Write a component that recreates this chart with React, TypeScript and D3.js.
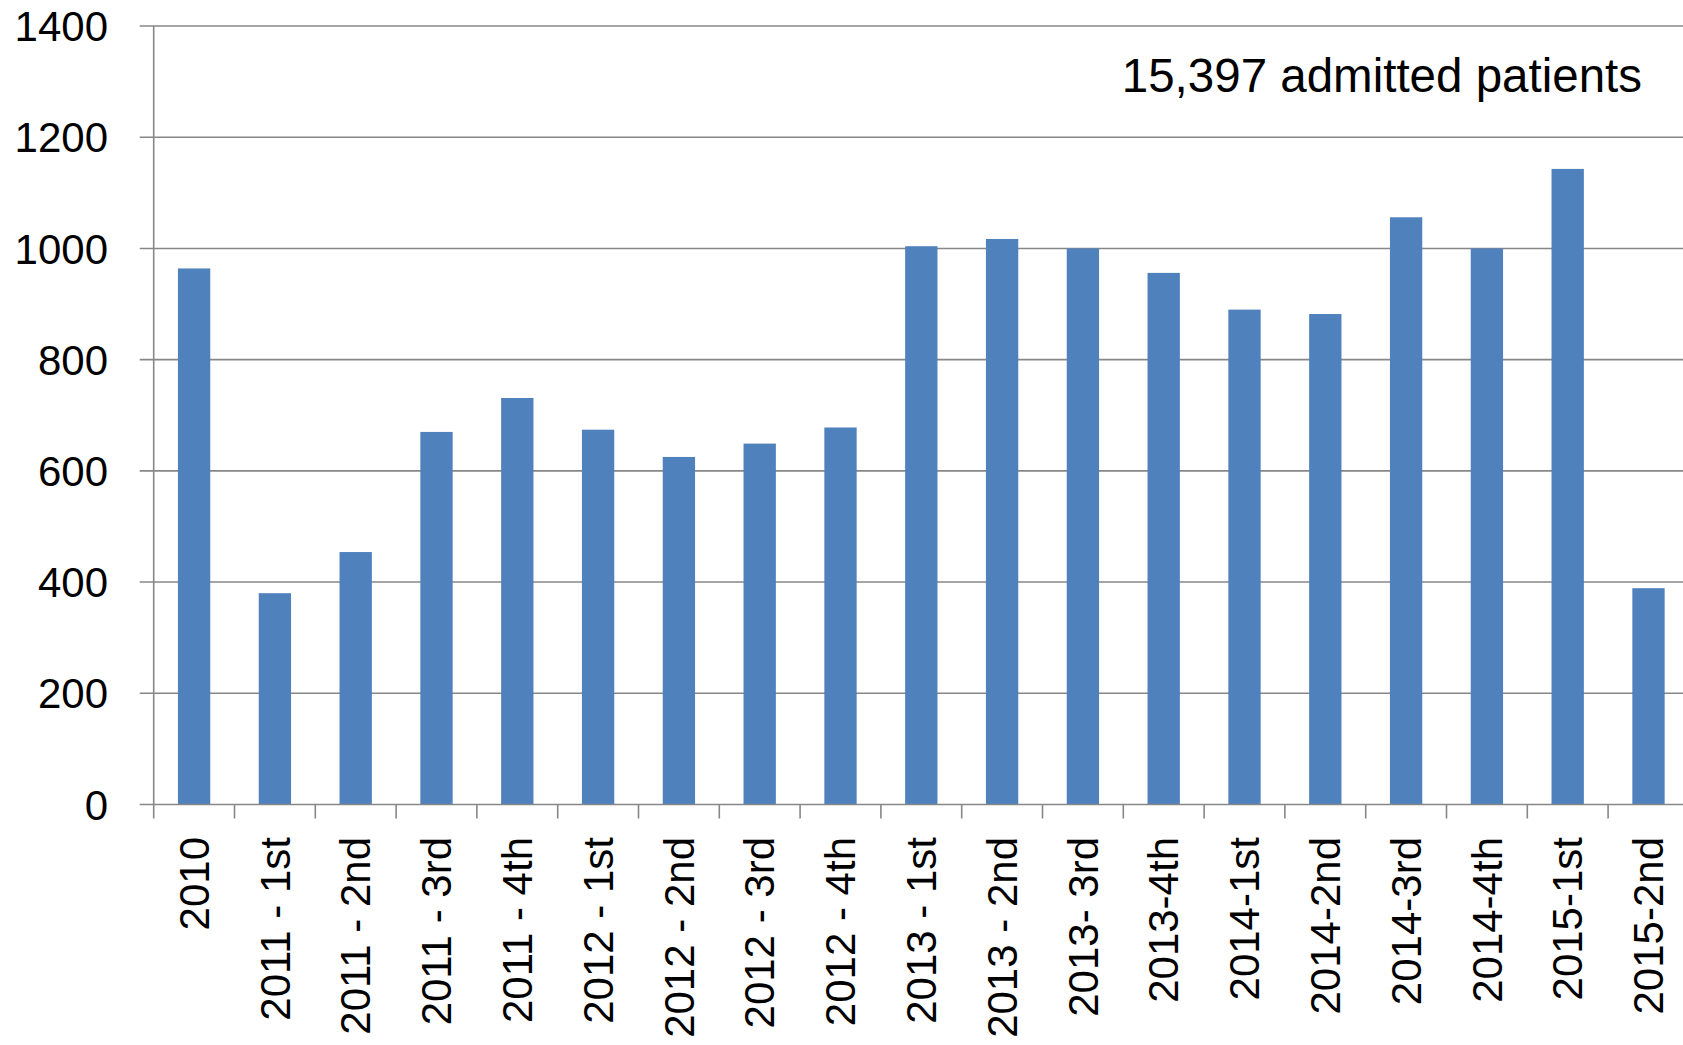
import React, { useEffect, useRef } from 'react';
import * as d3 from 'd3';

const categories = [
  "2010", "2011 - 1st", "2011 - 2nd", "2011 - 3rd", "2011 - 4th",
  "2012 - 1st", "2012 - 2nd", "2012 - 3rd", "2012 - 4th",
  "2013 - 1st", "2013 - 2nd", "2013- 3rd", "2013-4th",
  "2014-1st", "2014-2nd", "2014-3rd", "2014-4th",
  "2015-1st", "2015-2nd"
];
const admissions = [964, 380, 454, 670, 731, 674, 625, 649, 678, 1004, 1017, 1000, 956, 890, 882, 1056, 1000, 1143, 389];
const yTicks = [0, 200, 400, 600, 800, 1000, 1200, 1400];
const totalNote = "15,397 admitted patients";

const App = () => {
  const ref = useRef<SVGSVGElement>(null);

  useEffect(() => {
    document.body.style.margin = '0';
    const width = 1683;
    const height = 1045;
    const left = 153.7;
    const step = 80.8;
    const top = 26;
    const bottom = 804.5;
    const grey = '#878787';
    const font = '"Liberation Sans", Arial, sans-serif';

    const svg = d3.select(ref.current);
    svg.selectAll('*').remove();

    const x = d3.scaleBand()
      .domain(categories)
      .range([left, left + step * categories.length])
      .paddingInner(0.6)
      .paddingOuter(0.3);

    const y = d3.scaleLinear()
      .domain([0, 1400])
      .range([bottom, top]);

    // gridlines
    svg.append('g')
      .selectAll('line')
      .data(yTicks.filter(d => d > 0))
      .enter()
      .append('line')
      .attr('x1', left - 14)
      .attr('x2', width)
      .attr('y1', d => y(d))
      .attr('y2', d => y(d))
      .attr('stroke', grey)
      .attr('stroke-width', 1.6);

    // bars
    svg.append('g')
      .selectAll('rect')
      .data(admissions)
      .enter()
      .append('rect')
      .attr('x', (d, i) => x(categories[i]))
      .attr('y', d => y(d))
      .attr('width', x.bandwidth())
      .attr('height', d => bottom - y(d))
      .attr('fill', '#4F81BD');

    // y axis
    svg.append('line')
      .attr('x1', left).attr('x2', left)
      .attr('y1', top).attr('y2', bottom)
      .attr('stroke', grey).attr('stroke-width', 1.6);

    svg.append('line')
      .attr('x1', left - 14).attr('x2', width)
      .attr('y1', bottom).attr('y2', bottom)
      .attr('stroke', grey).attr('stroke-width', 1.6);

    svg.append('g')
      .selectAll('text')
      .data(yTicks)
      .enter()
      .append('text')
      .attr('x', 108)
      .attr('y', d => y(d))
      .attr('dy', '0.36em')
      .attr('text-anchor', 'end')
      .attr('font-family', font)
      .attr('font-size', 42)
      .attr('fill', '#000')
      .text(d => d);

    // x ticks at category boundaries
    svg.append('g')
      .selectAll('line')
      .data(d3.range(categories.length + 1))
      .enter()
      .append('line')
      .attr('x1', i => left + i * x.step())
      .attr('x2', i => left + i * x.step())
      .attr('y1', bottom)
      .attr('y2', bottom + 14)
      .attr('stroke', grey)
      .attr('stroke-width', 1.6);

    svg.append('g')
      .selectAll('text')
      .data(categories)
      .enter()
      .append('text')
      .attr('transform', d => `translate(${x(d) + x.bandwidth() / 2},837) rotate(-90)`)
      .attr('dy', '0.35em')
      .attr('text-anchor', 'end')
      .attr('font-family', font)
      .attr('font-size', 42)
      .attr('fill', '#000')
      .text(d => d);

    svg.append('text')
      .attr('x', 1642)
      .attr('y', 91.7)
      .attr('text-anchor', 'end')
      .attr('font-family', font)
      .attr('font-size', 47.5)
      .attr('fill', '#000')
      .text(totalNote);
  }, []);

  return (
    <svg ref={ref} width={1683} height={1045} style={{ display: 'block', background: '#fff' }} />
  );
};

export default App;
